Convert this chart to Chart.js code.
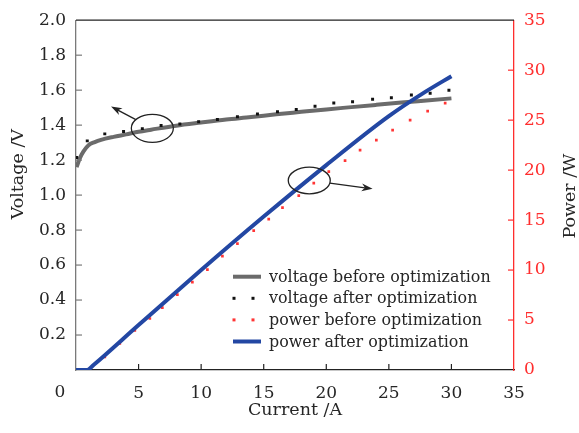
<!DOCTYPE html>
<html>
<head>
<meta charset="utf-8">
<script src="https://cdn.jsdelivr.net/npm/chart.js@4.4.1/dist/chart.umd.min.js"></script>
<style>
  html, body { margin: 0; padding: 0; background: #fff; }
  #wrap { width: 579px; height: 433px; }
</style>
</head>
<body>
<div id="wrap"><canvas id="chart"></canvas></div>
<script>
// Voltage before optimization (solid grey curve): current /A -> voltage /V
const vBeforeI = [0.05, 0.3, 0.6, 1.0, 1.5, 2, 3, 4, 5, 6, 8, 10, 12, 14, 16, 18, 20, 22, 24, 26, 28, 30];
const vBeforeV = [1.16, 1.21, 1.25, 1.285, 1.303, 1.316, 1.333, 1.347, 1.362, 1.374, 1.397, 1.415, 1.432, 1.446, 1.462, 1.476, 1.49, 1.503, 1.516, 1.529, 1.541, 1.553];

// Voltage after optimization (black dotted)
const vAfterI = [0.05, 0.9, 2.3, 3.8, 5.3, 6.8, 8.3, 9.8, 11.3, 12.9, 14.5, 16.1, 17.6, 19.1, 20.6, 22.1, 23.7, 25.2, 26.8, 28.3, 29.8];
const vAfterV = [1.215, 1.31, 1.35, 1.364, 1.38, 1.398, 1.407, 1.42, 1.432, 1.448, 1.464, 1.477, 1.49, 1.508, 1.526, 1.534, 1.548, 1.557, 1.572, 1.582, 1.6];

// Power before optimization (red dotted): current /A -> power /W
const pBeforeI = [1.1, 2.3, 3.5, 4.7, 5.9, 6.9, 8.1, 9.3, 10.5, 11.7, 12.9, 14.2, 15.4, 16.5, 17.8, 19.0, 20.2, 21.5, 22.7, 24.0, 25.3, 26.7, 28.1, 29.5];
const pBeforeP = [0.0, 1.3, 2.65, 3.95, 5.15, 6.25, 7.55, 8.8, 10.05, 11.4, 12.65, 13.95, 15.1, 16.25, 17.45, 18.7, 19.85, 20.95, 22.0, 23.0, 24.0, 25.0, 25.9, 26.7];

// Power after optimization (solid blue)
const pAfterI = [0, 0.9, 1.4, 5, 10, 15, 20, 25, 28, 30];
const pAfterP = [0, 0, 0.5, 4.5, 10.0, 15.35, 20.5, 25.4, 27.9, 29.4];

const xTicks = [0, 5, 10, 15, 20, 25, 30, 35];
const voltTicks = [0.2, 0.4, 0.6, 0.8, 1.0, 1.2, 1.4, 1.6, 1.8, 2.0];
const powerTicks = [0, 5, 10, 15, 20, 25, 30, 35];

const SERIF = '"DejaVu Serif", "Liberation Serif", serif';
const INK = '#262626';
const RED = '#ff2d2d';
const GREY_AXIS = '#7a7a7a';

const pts = (xs, ys) => xs.map((v, i) => ({ x: v, y: ys[i] }));

const datasets = [
  {
    label: 'voltage before optimization',
    data: pts(vBeforeI, vBeforeV),
    yAxisID: 'y',
    borderColor: '#6b6b6b',
    borderWidth: 4,
    pointRadius: 0,
    cubicInterpolationMode: 'monotone',
    order: 3,
    legendKind: 'line',
  },
  {
    label: 'voltage after optimization',
    data: pts(vAfterI, vAfterV),
    yAxisID: 'y',
    showLine: false,
    pointStyle: 'rect',
    pointRadius: 2.1,
    pointBorderWidth: 0,
    pointBackgroundColor: '#111',
    order: 1,
    legendKind: 'dots',
    legendColor: '#111',
  },
  {
    label: 'power before optimization',
    data: pts(pBeforeI, pBeforeP),
    yAxisID: 'y1',
    showLine: false,
    pointStyle: 'rect',
    pointRadius: 1.9,
    pointBorderWidth: 0,
    pointBackgroundColor: '#ff3535',
    order: 2,
    legendKind: 'dots',
    legendColor: '#ff3535',
  },
  {
    label: 'power after optimization',
    data: pts(pAfterI, pAfterP),
    yAxisID: 'y1',
    borderColor: '#2347a3',
    borderWidth: 4,
    pointRadius: 0,
    cubicInterpolationMode: 'monotone',
    order: 0,
    legendKind: 'line',
  },
];

// Ellipse call-outs with arrows pointing to the axis each curve belongs to
const callouts = [
  { axis: 'y', cx: 6.1, cy: 1.382, rx: 21, ry: 14, tipX: 2.8, tipY: 1.506 },
  { axis: 'y1', cx: 18.64, cy: 18.96, rx: 21, ry: 13.3, tipX: 23.7, tipY: 18.13 },
];

const LEGEND = { dx: 157, dy: 256.5, rowGap: 21.6, sample: 28, textGap: 8 };

function arrow(ctx, x0, y0, x1, y1) {
  const ang = Math.atan2(y1 - y0, x1 - x0);
  const len = 11, half = 3.8;
  ctx.beginPath();
  ctx.moveTo(x0, y0);
  ctx.lineTo(x1 - Math.cos(ang) * len * 0.7, y1 - Math.sin(ang) * len * 0.7);
  ctx.stroke();
  ctx.beginPath();
  ctx.moveTo(x1, y1);
  ctx.lineTo(x1 - Math.cos(ang) * len - Math.sin(ang) * half, y1 - Math.sin(ang) * len + Math.cos(ang) * half);
  ctx.lineTo(x1 - Math.cos(ang) * len * 0.7, y1 - Math.sin(ang) * len * 0.7);
  ctx.lineTo(x1 - Math.cos(ang) * len + Math.sin(ang) * half, y1 - Math.sin(ang) * len - Math.cos(ang) * half);
  ctx.closePath();
  ctx.fill();
}

const decorations = {
  id: 'decorations',
  afterDatasetsDraw(chart) {
    const { ctx, chartArea: a, scales } = chart;
    const { x, y, y1 } = scales;
    ctx.save();

    // top frame
    ctx.lineWidth = 1.3;
    ctx.strokeStyle = '#222';
    ctx.beginPath();
    ctx.moveTo(a.left, a.top);
    ctx.lineTo(a.right, a.top);
    ctx.stroke();

    // tick marks point inwards
    const T = 6;
    ctx.lineWidth = 1.2;
    ctx.strokeStyle = '#222';
    xTicks.slice(1, -1).forEach((v) => {
      const px = x.getPixelForValue(v);
      ctx.beginPath(); ctx.moveTo(px, a.bottom); ctx.lineTo(px, a.bottom - T); ctx.stroke();
    });
    ctx.strokeStyle = GREY_AXIS;
    voltTicks.slice(0, -1).forEach((v) => {
      const py = y.getPixelForValue(v);
      ctx.beginPath(); ctx.moveTo(a.left, py); ctx.lineTo(a.left + T, py); ctx.stroke();
    });
    ctx.strokeStyle = RED;
    powerTicks.slice(1, -1).forEach((v) => {
      const py = y1.getPixelForValue(v);
      ctx.beginPath(); ctx.moveTo(a.right, py); ctx.lineTo(a.right - T, py); ctx.stroke();
    });

    // call-outs
    ctx.strokeStyle = '#222';
    ctx.fillStyle = '#222';
    ctx.lineWidth = 1.3;
    callouts.forEach((c) => {
      const ys = scales[c.axis];
      const cx = x.getPixelForValue(c.cx), cy = ys.getPixelForValue(c.cy);
      const tx = x.getPixelForValue(c.tipX), ty = ys.getPixelForValue(c.tipY);
      ctx.beginPath();
      ctx.ellipse(cx, cy, c.rx, c.ry, 0, 0, Math.PI * 2);
      ctx.stroke();
      const dx = tx - cx, dy = ty - cy;
      const s = 1 / Math.sqrt((dx / c.rx) ** 2 + (dy / c.ry) ** 2);
      arrow(ctx, cx + dx * s, cy + dy * s, tx, ty);
    });
    ctx.restore();
  },
  afterDraw(chart) {
    const { ctx, chartArea: a } = chart;
    ctx.save();

    // legend
    ctx.font = `15.9px ${SERIF}`;
    ctx.textBaseline = 'middle';
    ctx.textAlign = 'left';
    chart.data.datasets.forEach((ds, i) => {
      const x0 = a.left + LEGEND.dx;
      const yc = a.top + LEGEND.dy + i * LEGEND.rowGap;
      if (ds.legendKind === 'line') {
        ctx.strokeStyle = ds.borderColor;
        ctx.lineWidth = ds.borderWidth;
        ctx.beginPath(); ctx.moveTo(x0, yc); ctx.lineTo(x0 + LEGEND.sample, yc); ctx.stroke();
      } else {
        ctx.fillStyle = ds.legendColor;
        [1, 20].forEach((o) => ctx.fillRect(x0 + o - 1.5, yc - 1.5, 3, 3));
      }
      ctx.fillStyle = INK;
      ctx.fillText(ds.label, x0 + LEGEND.sample + LEGEND.textGap, yc + 1);
    });

    // the origin label sits left of the corner
    ctx.font = `17px ${SERIF}`;
    ctx.textAlign = 'center';
    ctx.fillStyle = INK;
    ctx.fillText('0', a.left - 16, a.bottom + 23);

    // axis titles
    ctx.font = `17.5px ${SERIF}`;
    ctx.fillText('Current /A', (a.left + a.right) / 2, a.bottom + 40);
    ctx.save();
    ctx.translate(18, a.top + 154);
    ctx.rotate(-Math.PI / 2);
    ctx.fillText('Voltage /V', 0, 0);
    ctx.restore();
    ctx.save();
    ctx.translate(a.right + 56, a.top + 176);
    ctx.rotate(-Math.PI / 2);
    ctx.fillText('Power /W', 0, 0);
    ctx.restore();

    ctx.restore();
  },
};

new Chart(document.getElementById('chart'), {
  type: 'line',
  data: { datasets },
  options: {
    responsive: true,
    maintainAspectRatio: false,
    animation: false,
    layout: { padding: { top: 18, left: 0, right: 0, bottom: 0 } },
    plugins: { legend: { display: false }, tooltip: { enabled: false } },
    scales: {
      x: {
        type: 'linear',
        min: 0,
        max: 35,
        afterBuildTicks: (s) => { s.ticks = xTicks.map((v) => ({ value: v })); },
        ticks: {
          color: INK,
          font: { family: SERIF, size: 17 },
          padding: 13,
          maxRotation: 0,
          callback: (v) => (v === 0 ? '' : v),
        },
        grid: { display: false, drawTicks: false },
        border: { color: '#222', width: 1.3 },
        afterFit: (s) => { s.height = 63; },
      },
      y: {
        position: 'left',
        min: 0,
        max: 2,
        afterBuildTicks: (s) => { s.ticks = voltTicks.map((v) => ({ value: v })); },
        ticks: {
          color: INK,
          font: { family: SERIF, size: 17 },
          padding: 10,
          callback: (v) => v.toFixed(1),
        },
        grid: { display: false, drawTicks: false },
        border: { color: GREY_AXIS, width: 1.3 },
        afterFit: (s) => { s.width = 76; },
      },
      y1: {
        position: 'right',
        min: 0,
        max: 35,
        afterBuildTicks: (s) => { s.ticks = powerTicks.map((v) => ({ value: v })); },
        ticks: {
          color: RED,
          font: { family: SERIF, size: 17 },
          padding: 10,
        },
        grid: { display: false, drawTicks: false },
        border: { color: RED, width: 1.3 },
        afterFit: (s) => { s.width = 65; },
      },
    },
  },
  plugins: [decorations],
});
</script>
</body>
</html>
